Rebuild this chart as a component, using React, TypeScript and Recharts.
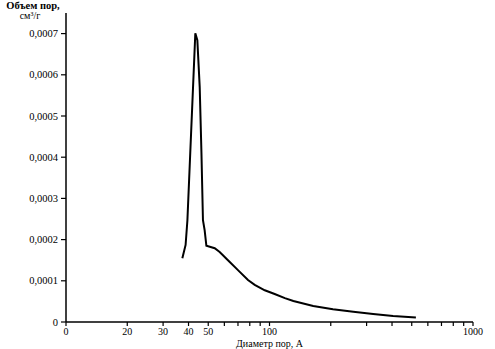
import React from 'react';
import { LineChart, Line, XAxis, YAxis, Label } from 'recharts';

const diameters = [37.3, 38.7, 39.5, 43.2, 44.2, 45.4, 46.3, 47.1, 48.0, 48.96, 53.8, 56.9, 62.5, 70.0, 78.4, 84.6, 94.8, 106, 119, 131, 164, 205, 258, 323, 405, 524];
const volumes = [0.000155, 0.000187, 0.000247, 0.000701, 0.000684, 0.00057, 0.00041, 0.000247, 0.000223, 0.000185, 0.000179, 0.00017, 0.00015, 0.000126, 0.000102, 0.00009, 0.000077, 0.000068, 0.000058, 0.000051, 0.000039, 0.000031, 0.000025, 0.0000194, 0.0000145, 0.000011];
const xTicks = [10, 20, 30, 40, 50, 60, 70, 80, 90, 100, 200, 300, 400, 500, 600, 700, 800, 900, 1000];
const xLabels: Record<number, string> = { 10: '0', 20: '20', 30: '30', 40: '40', 50: '50', 100: '100', 1000: '1000' };
const yTicks = [0, 0.0001, 0.0002, 0.0003, 0.0004, 0.0005, 0.0006, 0.0007];

const data = diameters.map((d, i) => ({ d, v: volumes[i] }));

const font = '"Liberation Serif", "Times New Roman", "DejaVu Serif", serif';

const XTick = (props: any) => {
  const { x, y, payload } = props;
  const label = xLabels[payload.value] ?? '';
  if (!label) return null;
  return (
    <text x={x} y={y + 7} textAnchor="middle" fill="#000" fontSize={10} fontFamily="Liberation Serif">
      {label}
    </text>
  );
};

const YTick = (props: any) => {
  const { x, y, payload } = props;
  const v = payload.value as number;
  const label = v === 0 ? '0' : v.toFixed(4).replace('.', ',');
  return (
    <text x={x - 1} y={y + 3.5} textAnchor="end" fill="#000" fontSize={10.5} fontFamily="Liberation Serif">
      {label}
    </text>
  );
};

export default function App() {
  return (
    <div style={{ position: 'absolute', left: 0, top: 0, width: 495, height: 349, background: '#fff', fontFamily: font }}>
      <LineChart width={495} height={349} data={data} margin={{ top: 13, right: 22, bottom: 0, left: 6 }}>
        <XAxis
          dataKey="d"
          type="number"
          scale="log"
          domain={[10, 1000]}
          ticks={xTicks}
          interval={0}
          tickSize={4}
          tick={<XTick />}
          axisLine={{ stroke: '#000', strokeWidth: 1.5 }}
          tickLine={{ stroke: '#000', strokeWidth: 1.2 }}
          height={27}
          allowDataOverflow
        >
          <Label
            content={(props: any) => {
              const vb = props.viewBox || {};
              return (
                <text x={vb.x + vb.width / 2} y={347} textAnchor="middle" fill="#000" fontSize={10} fontFamily="Liberation Serif">
                  Диаметр пор, А
                </text>
              );
            }}
          />
        </XAxis>
        <YAxis
          type="number"
          domain={[0, 0.00075]}
          ticks={yTicks}
          interval={0}
          width={60}
          tickSize={5}
          tick={<YTick />}
          axisLine={{ stroke: '#000', strokeWidth: 1.5 }}
          tickLine={{ stroke: '#000', strokeWidth: 1.2 }}
        >
          <Label
            content={() => (
              <g>
                <text x={33} y={9} textAnchor="middle" fill="#000" fontSize={10.5} fontWeight="bold" fontFamily="Liberation Serif">
                  Объем пор,
                </text>
                <text x={30} y={19} textAnchor="middle" fill="#000" fontSize={10} fontFamily="Liberation Serif">
                  см³/г
                </text>
              </g>
            )}
          />
        </YAxis>
        <Line
          type="linear"
          dataKey="v"
          stroke="#000"
          strokeWidth={2}
          dot={false}
          isAnimationActive={false}
        />
      </LineChart>
    </div>
  );
}
